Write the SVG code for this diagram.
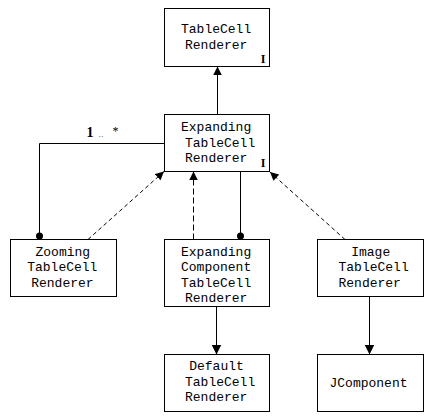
<svg xmlns="http://www.w3.org/2000/svg" width="435" height="420" viewBox="0 0 435 420">
<style>
.box{fill:#fff;stroke:#000;stroke-width:1}
.t{font-family:"Liberation Mono","Courier New",monospace;font-size:13px;fill:#000}
.i{font-family:"Liberation Serif","Times New Roman",serif;font-size:12px;font-weight:bold;fill:#000}
.ln{fill:none;stroke:#000;stroke-width:1}
.dd{stroke-dasharray:4 3}
.dv{stroke-dasharray:6 3}
</style>
<defs>
<marker id="arr" viewBox="0 0 10 10" refX="10" refY="5" markerWidth="9" markerHeight="8.5" markerUnits="userSpaceOnUse" orient="auto"><path d="M0,0 L10,5 L0,10 z" fill="#000"/></marker>
<marker id="arrB" viewBox="0 0 10 10" refX="10" refY="5" markerWidth="10" markerHeight="12" markerUnits="userSpaceOnUse" orient="auto"><path d="M0,0 L10,5 L0,10 z" fill="#000"/></marker>
<marker id="dot" viewBox="0 0 8 8" refX="7.5" refY="4" markerWidth="8" markerHeight="8" markerUnits="userSpaceOnUse" orient="auto"><circle cx="4" cy="4" r="3.5" fill="#000"/></marker>
</defs>
<g id="connectors">
<path class="ln" d="M217.5,114.5 V66.5" marker-end="url(#arr)"/>
<path class="ln" d="M164.5,143.5 H39.5 V239.5" marker-end="url(#dot)"/>
<path class="ln dd" d="M88,239.5 L164,171.5" marker-end="url(#arr)"/>
<path class="ln dv" d="M193.5,239.5 V171.5" marker-end="url(#arr)"/>
<path class="ln" d="M240.5,171.5 V239.5" marker-end="url(#dot)"/>
<path class="ln dd" d="M345,239.5 L270,172" marker-end="url(#arr)"/>
<path class="ln" d="M216.5,306.5 V354.5" marker-end="url(#arrB)"/>
<path class="ln" d="M369.5,296.5 V354.5" marker-end="url(#arrB)"/>
<g id="mult">
<text x="86.5" y="137" font-family="Liberation Serif,serif" font-size="14" font-weight="bold" fill="#000">1</text>
<text x="98.5" y="137" font-family="Liberation Serif,serif" font-size="10" fill="#808080">..</text>
<text x="112.5" y="135" font-family="Liberation Serif,serif" font-size="12" fill="#000">*</text>
</g>
</g>
<g id="TableCellRenderer">
<rect class="box" x="164.5" y="8.5" width="105" height="58"/>
<text class="t" x="181" y="33">TableCell</text>
<text class="t" x="185" y="49">Renderer</text>
<text class="i" x="263" y="62.5" text-anchor="middle">I</text>
</g>
<g id="ExpandingTableCellRenderer">
<rect class="box" x="164.5" y="114.5" width="105" height="57"/>
<text class="t" x="181" y="131">Expanding</text>
<text class="t" x="185" y="146.5">TableCell</text>
<text class="t" x="185" y="162">Renderer</text>
<text class="i" x="263" y="167" text-anchor="middle">I</text>
</g>
<g id="ZoomingTableCellRenderer">
<rect class="box" x="10.5" y="239.5" width="106" height="57"/>
<text class="t" x="35.5" y="255.7">Zooming</text>
<text class="t" x="27.2" y="271">TableCell</text>
<text class="t" x="31.2" y="286.7">Renderer</text>
</g>
<g id="ExpandingComponentTableCellRenderer">
<rect class="box" x="164.5" y="239.5" width="105" height="67"/>
<text class="t" x="181" y="255.7">Expanding</text>
<text class="t" x="181" y="271">Component</text>
<text class="t" x="181" y="286.5">TableCell</text>
<text class="t" x="185" y="301.7">Renderer</text>
</g>
<g id="ImageTableCellRenderer">
<rect class="box" x="317.5" y="239.5" width="106" height="57"/>
<text class="t" x="351.2" y="255.7">Image</text>
<text class="t" x="338.5" y="271">TableCell</text>
<text class="t" x="338.5" y="286.7">Renderer</text>
</g>
<g id="DefaultTableCellRenderer">
<rect class="box" x="164.5" y="354.5" width="105" height="57"/>
<text class="t" x="189.2" y="370">Default</text>
<text class="t" x="185" y="385.7">TableCell</text>
<text class="t" x="185" y="401">Renderer</text>
</g>
<g id="JComponent">
<rect class="box" x="317.5" y="354.5" width="106" height="57"/>
<text class="t" x="329.5" y="386.7">JComponent</text>
</g>
</svg>
